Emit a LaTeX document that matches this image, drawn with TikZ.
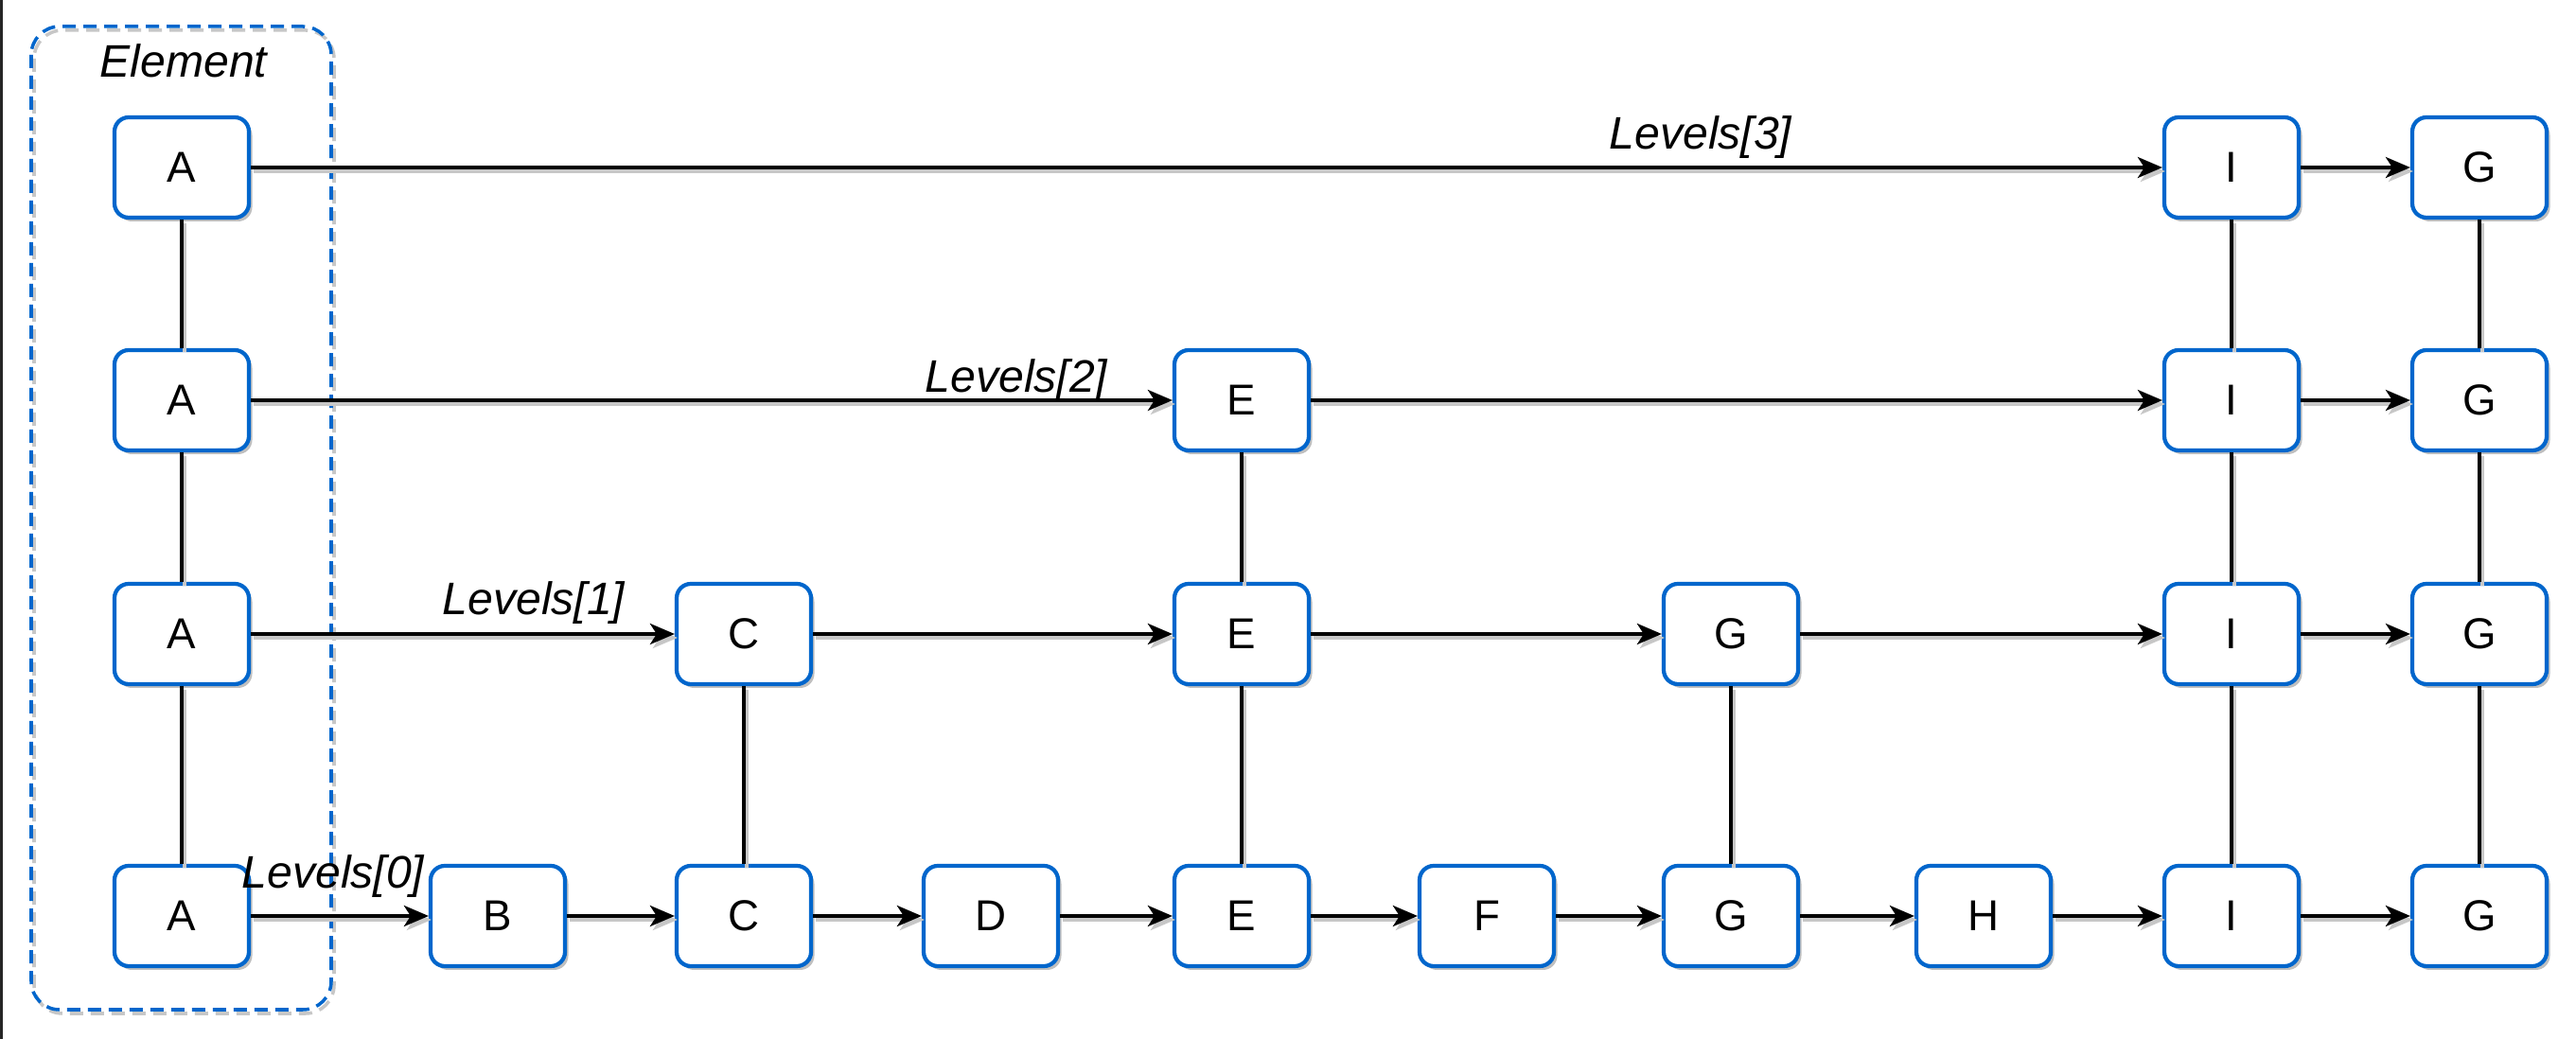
\documentclass[tikz,border=0pt]{standalone}
\usepackage{fontspec}
\setmainfont{Liberation Sans}
\usetikzlibrary{arrows.meta, shadows, positioning}
\definecolor{elemblue}{HTML}{0066CC}

\begin{document}
\begin{tikzpicture}[
  elem/.style={draw=elemblue, line width=1.2pt, rounded corners=0.15cm, fill=white,
    minimum width=1.42cm, minimum height=1.06cm, inner sep=0pt,
    font=\fontsize{13}{15}\selectfont,
    drop shadow={shadow xshift=0.035cm, shadow yshift=-0.04cm, fill=black!25, opacity=1}},
  link/.style={line width=1.05pt,
    preaction={draw=black!22, line width=1.05pt, transform canvas={xshift=0.03cm, yshift=-0.04cm}}},
  lvl/.style={font=\fontsize{13.7}{16}\selectfont\itshape, anchor=base, inner sep=0pt},
  >={Stealth[length=0.26cm, width=0.22cm, inset=0.07cm]}]

\useasboundingbox (0,0) rectangle (27.22,-10.98);
\fill[white] (0,0) rectangle (27.22,-10.98);
\fill[black!85] (0,0) rectangle (0.03,-10.98);

% Element group
\draw[black!22, line width=1pt, dash pattern=on 0.14cm off 0.08cm, rounded corners=0.3cm]
  (0.36,-0.32) rectangle (3.53,-10.71);
\draw[elemblue, line width=1pt, dash pattern=on 0.14cm off 0.08cm, rounded corners=0.3cm]
  (0.33,-0.28) rectangle (3.50,-10.67);
\node[font=\fontsize{13.7}{16}\selectfont\itshape] (elemlabel) at (1.94,-0.64) {Element};

% level 3
\node[elem] (a3) at (1.92,-1.77) {A};
\node[elem] (i3) at (23.58,-1.77) {I};
\node[elem] (j3) at (26.20,-1.77) {G};

% level 2
\node[elem] (a2) at (1.92,-4.23) {A};
\node[elem] (e2) at (13.12,-4.23) {E};
\node[elem] (i2) at (23.58,-4.23) {I};
\node[elem] (j2) at (26.20,-4.23) {G};

% level 1
\node[elem] (a1) at (1.92,-6.70) {A};
\node[elem] (c1) at (7.86,-6.70) {C};
\node[elem] (e1) at (13.12,-6.70) {E};
\node[elem] (g1) at (18.29,-6.70) {G};
\node[elem] (i1) at (23.58,-6.70) {I};
\node[elem] (j1) at (26.20,-6.70) {G};

% level 0
\node[elem] (a0) at (1.92,-9.68) {A};
\node[elem] (b0) at (5.26,-9.68) {B};
\node[elem] (c0) at (7.86,-9.68) {C};
\node[elem] (d0) at (10.47,-9.68) {D};
\node[elem] (e0) at (13.12,-9.68) {E};
\node[elem] (f0) at (15.71,-9.68) {F};
\node[elem] (g0) at (18.29,-9.68) {G};
\node[elem] (h0) at (20.96,-9.68) {H};
\node[elem] (i0) at (23.58,-9.68) {I};
\node[elem] (j0) at (26.20,-9.68) {G};

% vertical links
\draw[link] (a3) -- (a2);
\draw[link] (a2) -- (a1);
\draw[link] (a1) -- (a0);
\draw[link] (c1) -- (c0);
\draw[link] (e2) -- (e1);
\draw[link] (e1) -- (e0);
\draw[link] (g1) -- (g0);
\draw[link] (i3) -- (i2);
\draw[link] (i2) -- (i1);
\draw[link] (i1) -- (i0);
\draw[link] (j3) -- (j2);
\draw[link] (j2) -- (j1);
\draw[link] (j1) -- (j0);

% forward links
\draw[link, ->] (a3) -- (i3);
\draw[link, ->] (i3) -- (j3);

\draw[link, ->] (a2) -- (e2);
\draw[link, ->] (e2) -- (i2);
\draw[link, ->] (i2) -- (j2);

\draw[link, ->] (a1) -- (c1);
\draw[link, ->] (c1) -- (e1);
\draw[link, ->] (e1) -- (g1);
\draw[link, ->] (g1) -- (i1);
\draw[link, ->] (i1) -- (j1);

\draw[link, ->] (a0) -- (b0);
\draw[link, ->] (b0) -- (c0);
\draw[link, ->] (c0) -- (d0);
\draw[link, ->] (d0) -- (e0);
\draw[link, ->] (e0) -- (f0);
\draw[link, ->] (f0) -- (g0);
\draw[link, ->] (g0) -- (h0);
\draw[link, ->] (h0) -- (i0);
\draw[link, ->] (i0) -- (j0);

\node[lvl] (lvl3) at (17.97,-1.58) {Levels[3]};
\node[lvl] (lvl2) at (10.74,-4.15) {Levels[2]};
\node[lvl] (lvl1) at (5.64,-6.50) {Levels[1]};
\node[lvl] (lvl0) at (3.52,-9.39) {Levels[0]};

\end{tikzpicture}
\end{document}
